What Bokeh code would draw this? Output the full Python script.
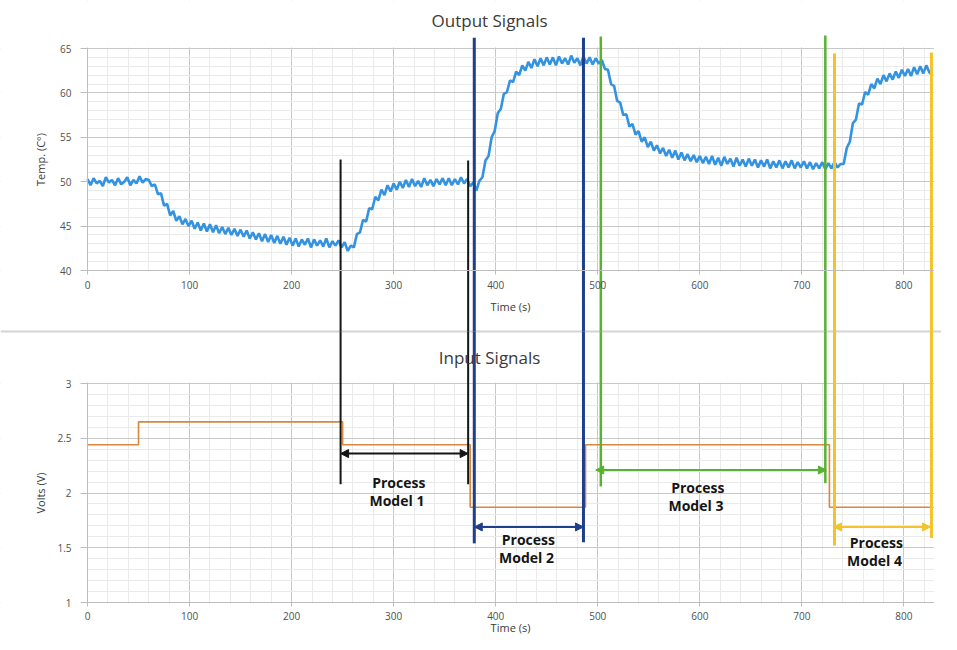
import numpy as np
from bokeh.plotting import figure
from bokeh.models import (Range1d, LinearAxis, Grid, FixedTicker, SingleIntervalTicker,
                          Arrow, NormalHead, Label)
from bokeh.core.properties import value
from bokeh.embed import file_html
from bokeh.resources import INLINE

# ---------------- data ----------------
SAMPLE_STEP_S = 3
temp_c = [
    # 0 .. 57 s
    50.3, 49.6, 50.4, 49.8, 50.1, 49.5, 50.5, 49.9, 50.2, 49.6, 50.4, 49.7, 50.0, 50.5, 49.6, 50.2, 49.8, 50.6, 49.9, 50.3,
    # 60 .. 99 s
    50.2, 49.5, 49.7, 48.6, 48.7, 47.3, 47.5, 46.2, 46.7, 45.6, 46.1, 45.2, 45.8, 45.0,
    # 102 .. 147 s
    45.6, 44.7, 45.4, 44.5, 45.3, 44.4, 45.2, 44.3, 45.1, 44.2, 44.9, 44.1, 44.8, 44.0, 44.7, 43.9,
    # 150 .. 198 s
    44.6, 43.8, 44.5, 43.6, 44.3, 43.5, 44.2, 43.3, 44.1, 43.2, 44.0, 43.1, 43.9, 43.0, 43.8, 42.9, 43.7,
    # 201 .. 249 s
    42.8, 43.6, 42.7, 43.5, 42.9, 43.6, 42.6, 43.5, 42.8, 43.4, 42.7, 43.6, 42.6, 43.3, 42.8, 43.4, 42.6,
    # 252 .. 300 s
    43.2, 42.2, 42.8, 42.6, 44.1, 44.3, 45.7, 45.5, 47.0, 46.9, 48.3, 47.9, 49.1, 48.5, 49.6, 48.9, 49.8,
    # 303 .. 351 s
    49.1, 50.0, 49.3, 50.2, 49.4, 50.3, 49.5, 50.1, 49.4, 50.4, 49.6, 50.2, 49.5, 50.3, 49.7, 50.4, 49.6,
    # 354 .. 399 s
    50.4, 49.6, 50.3, 49.7, 50.5, 49.8, 50.3, 49.5, 49.9, 49.0, 50.1, 50.5, 52.4, 52.9, 55.0, 55.7,
    # 402 .. 450 s
    57.7, 58.2, 59.9, 60.1, 61.4, 61.2, 62.4, 62.0, 63.1, 62.5, 63.5, 62.8, 63.8, 63.0, 63.9, 63.1, 64.0,
    # 453 .. 501 s
    63.2, 64.0, 63.1, 64.1, 63.3, 63.9, 63.2, 64.2, 63.4, 63.9, 63.1, 64.1, 63.3, 64.0, 63.2, 63.9, 63.3,
    # 504 .. 552 s
    63.7, 62.7, 62.6, 61.0, 60.8, 59.1, 58.9, 57.5, 57.6, 56.2, 56.5, 55.3, 55.7, 54.5, 55.0, 53.9, 54.5,
    # 555 .. 603 s
    53.5, 54.1, 53.2, 53.8, 52.9, 53.6, 52.7, 53.5, 52.5, 53.3, 52.4, 53.1, 52.3, 53.0, 52.2, 52.9, 52.1,
    # 606 .. 654 s
    52.8, 52.0, 52.9, 51.9, 52.7, 51.8, 52.8, 52.0, 52.6, 51.7, 52.7, 51.8, 52.5, 51.7, 52.6, 51.8, 52.5,
    # 657 .. 705 s
    51.6, 52.4, 51.7, 52.5, 51.5, 52.3, 51.6, 52.4, 51.5, 52.3, 51.6, 52.4, 51.5, 52.2, 51.6, 52.3, 51.5,
    # 708 .. 738 s
    52.2, 51.4, 52.1, 51.5, 52.2, 51.4, 52.1, 51.5, 52.2, 51.6, 52.0,
    # 741 .. 789 s
    52.0, 53.8, 54.5, 56.6, 57.0, 58.8, 58.7, 60.1, 59.8, 61.0, 60.5, 61.6, 61.0, 62.0, 61.3, 62.2, 61.5,
    # 792 .. 828 s
    62.4, 61.7, 62.6, 61.9, 62.7, 61.9, 62.9, 62.1, 63.0, 62.2, 63.1, 62.3, 62.0,
]
time_s = [SAMPLE_STEP_S * i for i in range(len(temp_c))]

# input voltage steps (value holds from each time until the next)
input_t = [0, 50, 250, 375, 488, 727, 829]
input_v = [2.44, 2.65, 2.44, 1.87, 2.44, 1.87, 1.87]

x_ticks = [0, 100, 200, 300, 400, 500, 600, 700, 800]
temp_ticks = [40, 45, 50, 55, 60, 65]
volt_ticks = [1, 1.5, 2, 2.5, 3]

# process-model windows (s)
model_labels = ["Process\nModel  1", "Process\nModel  2", "Process\nModel  3", "Process\nModel  4"]
model_start = [248, 379, 498, 731]
model_end = [373, 486, 724, 826]

# vertical marker lines (s)
marker_t = [248, 373, 379, 486, 503, 723, 732, 827]

# ---------------- styling / layout ----------------
W, H = 941, 634
X0_PX, X829_PX = 87, 933          # canvas x of t=0 and t=829
TOP_Y65, TOP_Y40 = 48, 270        # canvas y of 65 and 40 degC
BOT_Y3, BOT_Y1 = 383, 602         # canvas y of 3 and 1 V
SEP_Y = 331                       # canvas y of the separator line
X_MAX = 829

kx = (X829_PX - X0_PX) / X_MAX
x_start = -X0_PX / kx
x_end = (W - X0_PX) / kx
t_ppu = (TOP_Y40 - TOP_Y65) / 25.0
temp_end = 65 + TOP_Y65 / t_ppu
temp_start = 40 - (H - TOP_Y40) / t_ppu
v_ppu = (BOT_Y1 - BOT_Y3) / 2.0
volt_end = 3 + BOT_Y3 / v_ppu
volt_start = 1 - (H - BOT_Y1) / v_ppu
sep_temp = 40 - (SEP_Y - TOP_Y40) / t_ppu
sep_volt = 3 + (BOT_Y3 - SEP_Y) / v_ppu

FONT = "Open Sans"
BLACK = "#151515"
NAVY = "#1E3F8C"
GREEN = "#58B22F"
YELLOW = "#F4C32A"
TXT = "#3A3A3A"

marker_color = [BLACK, BLACK, NAVY, NAVY, GREEN, GREEN, YELLOW, YELLOW]
marker_width = [2, 2, 3, 3, 2.5, 2.5, 3, 3]
marker_top_c = [52.5, 52.4, 66.2, 66.2, 66.35, 66.45, 64.45, 64.55]   # top end, degC
marker_bot_v = [2.08, 2.08, 1.54, 1.55, 2.06, 2.09, 1.52, 1.59]        # bottom end, V

arrow_color = [BLACK, NAVY, GREEN, YELLOW]
arrow_y = [2.36, 1.69, 2.21, 1.69]
label_x = [305, 432, 598, 773]
label_y = [2.01, 1.49, 1.97, 1.47]

p = figure(width=W, height=H, title=None,
           x_range=Range1d(x_start, x_end), y_range=Range1d(volt_start, volt_end),
           x_axis_type=None, y_axis_type=None,
           toolbar_location=None, output_backend="svg",
           min_border_left=0, min_border_right=0, min_border_top=0, min_border_bottom=0,
           outline_line_color=None, background_fill_color="white",
           border_fill_color="white")
p.extra_y_ranges = {"temp": Range1d(temp_start, temp_end)}

MAJ = "#C8C8C8"
MIN = "#EAEAEA"
p.add_layout(Grid(dimension=0, ticker=SingleIntervalTicker(interval=100, num_minor_ticks=5),
                  grid_line_color=MAJ, minor_grid_line_color=MIN))
p.add_layout(Grid(dimension=1, y_range_name="temp",
                  ticker=FixedTicker(ticks=temp_ticks, minor_ticks=list(range(40, 66))),
                  grid_line_color=MAJ, minor_grid_line_color=MIN))
p.add_layout(Grid(dimension=1,
                  ticker=FixedTicker(ticks=volt_ticks,
                                     minor_ticks=[round(1 + 0.1 * i, 1) for i in range(21)]),
                  grid_line_color=MAJ, minor_grid_line_color=MIN))

# white margins around the two panels (hide the grid there)
cover = dict(fill_color="white", line_color=None)
p.quad(left=x_start, right=-0.4, bottom=temp_start, top=temp_end, y_range_name="temp", **cover)
p.quad(left=X_MAX + 0.4, right=x_end, bottom=temp_start, top=temp_end, y_range_name="temp", **cover)
p.quad(left=x_start, right=x_end, bottom=65.12, top=temp_end, y_range_name="temp", **cover)
p.quad(left=x_start, right=x_end, bottom=32, top=39.88, y_range_name="temp", **cover)
p.quad(left=x_start, right=x_end, bottom=3.01, top=3.6, **cover)
p.quad(left=x_start, right=x_end, bottom=volt_start, top=0.99, **cover)

# separator between the two charts
p.segment(x0=[x_start], y0=[sep_temp], x1=[x_end], y1=[sep_temp], y_range_name="temp",
          line_color="#D4D4D4", line_width=2)


def style_axis(ax, tick_out, standoff):
    ax.axis_line_color = "#BDBDBD"
    ax.major_tick_line_color = "#BDBDBD"
    ax.major_tick_out = tick_out
    ax.major_tick_in = 0
    ax.minor_tick_line_color = None
    ax.major_label_text_font = FONT
    ax.major_label_text_font_size = "10px"
    ax.major_label_text_color = "#4F4F4F"
    ax.major_label_standoff = standoff


ax_top = LinearAxis(y_range_name="temp", fixed_location=40, bounds=(0, X_MAX),
                    ticker=FixedTicker(ticks=x_ticks))
style_axis(ax_top, 4, 6)
p.add_layout(ax_top, "below")
ax_bot = LinearAxis(fixed_location=1, bounds=(0, X_MAX), ticker=FixedTicker(ticks=x_ticks))
style_axis(ax_bot, 4, 5)
p.add_layout(ax_bot, "below")

ay_top = LinearAxis(y_range_name="temp", fixed_location=0, bounds=(40, 65),
                    ticker=FixedTicker(ticks=temp_ticks))
style_axis(ay_top, 7, 9)
p.add_layout(ay_top, "left")
ay_bot = LinearAxis(fixed_location=0, bounds=(1, 3), ticker=FixedTicker(ticks=volt_ticks))
style_axis(ay_bot, 7, 9)
p.add_layout(ay_bot, "left")

# signals
p.step(input_t, input_v, mode="after", line_color="#D8873E", line_width=1.6)
p.line(time_s, temp_c, y_range_name="temp", line_color="#3393E0", line_width=2.6)

# vertical marker lines (upper part in degC, lower part in V, meeting at the separator)
p.segment(x0=marker_t, y0=marker_top_c, x1=marker_t, y1=[sep_temp] * len(marker_t),
          y_range_name="temp", line_color=marker_color, line_width=marker_width)
p.segment(x0=marker_t, y0=[sep_volt] * len(marker_t), x1=marker_t, y1=marker_bot_v,
          line_color=marker_color, line_width=marker_width)

for s, e, y, c in zip(model_start, model_end, arrow_y, arrow_color):
    p.add_layout(Arrow(x_start=s, x_end=e, y_start=y, y_end=y, line_color=c, line_width=2,
                       start=NormalHead(size=8, fill_color=c, line_color=c),
                       end=NormalHead(size=8, fill_color=c, line_color=c)))

p.text(x=label_x, y=label_y, text=model_labels, text_font=value(FONT),
       text_font_style="bold", text_font_size="14px", text_color=BLACK,
       text_align="center", text_baseline="middle", text_line_height=0.95)

# titles and axis labels
mid_x = 394
p.add_layout(Label(x=mid_x, y=68.15, y_range_name="temp", text="Output Signals",
                   text_font=FONT, text_font_size="17px", text_color=TXT,
                   text_align="center", text_baseline="middle"))
p.add_layout(Label(x=mid_x, y=3.24, text="Input Signals",
                   text_font=FONT, text_font_size="17px", text_color=TXT,
                   text_align="center", text_baseline="middle"))
p.add_layout(Label(x=X_MAX / 2, y=35.95, y_range_name="temp", text="Time (s)",
                   text_font=FONT, text_font_size="11px", text_color=TXT,
                   text_align="center", text_baseline="middle"))
p.add_layout(Label(x=X_MAX / 2, y=0.775, text="Time (s)",
                   text_font=FONT, text_font_size="11px", text_color=TXT,
                   text_align="center", text_baseline="middle"))
p.add_layout(Label(x=40, x_units="screen", y=52.5, y_range_name="temp", text="Temp. (C°)",
                   angle=np.pi / 2, text_font=FONT, text_font_size="11px", text_color=TXT,
                   text_align="center", text_baseline="middle"))
p.add_layout(Label(x=40, x_units="screen", y=2.0, text="Volts (V)",
                   angle=np.pi / 2, text_font=FONT, text_font_size="11px", text_color=TXT,
                   text_align="center", text_baseline="middle"))

open("out.html", "w").write(file_html(p, INLINE))
